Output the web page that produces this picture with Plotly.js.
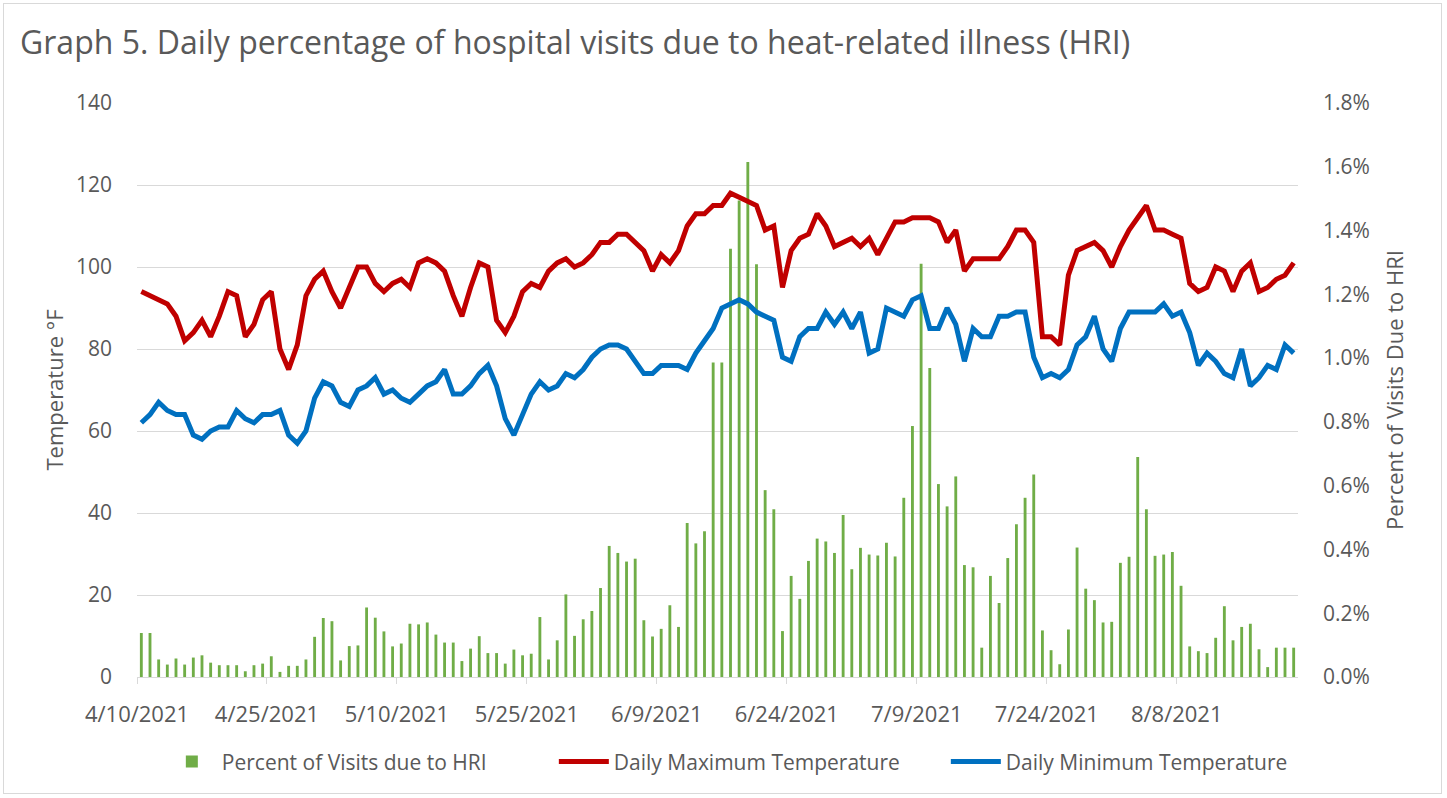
<!DOCTYPE html>
<html><head><meta charset="utf-8">
<script src="https://cdn.plot.ly/plotly-3.0.1.min.js"></script>
<style>
html,body{margin:0;padding:0;background:#fff}
#wrap{position:relative;width:1447px;height:798px}
#frame{position:absolute;left:3px;top:3px;width:1439px;height:791px;border:1px solid #d9d9d9;pointer-events:none;box-sizing:border-box}
</style></head>
<body><div id="wrap"><div id="chart"></div><div id="frame"></div></div>
<script>
const START_DATE = '2021-04-10';
const END_DATE = '2021-08-22';
const maxTemp = [94,93,92,91,88,82,84,87,83,88,
94,93,83,86,92,94,80,75,81,93,
97,99,94,90,95,100,100,96,94,96,
97,95,101,102,101,99,93,88,95,101,
100,87,84,88,94,96,95,99,101,102,
100,101,103,106,106,108,108,106,104,99,
103,101,104,110,113,113,115,115,118,117,
116,115,109,110,95,104,107,108,113,110,
105,106,107,105,107,103,107,111,111,112,
112,112,111,106,109,99,102,102,102,102,
105,109,109,106,83,83,81,98,104,105,
106,104,100,105,109,112,115,109,109,108,
107,96,94,95,100,99,94,99,101,94,
95,97,98,101];
const minTemp = [62,64,67,65,64,64,59,58,60,61,
61,65,63,62,64,64,65,59,57,60,
68,72,71,67,66,70,71,73,69,70,
68,67,69,71,72,75,69,69,71,74,
76,71,63,59,64,69,72,70,71,74,
73,75,78,80,81,81,80,77,74,74,
76,76,76,75,79,82,85,90,91,92,
91,89,88,87,78,77,83,85,85,89,
86,89,85,89,79,80,90,89,88,92,
93,85,85,90,86,77,85,83,83,88,
88,89,89,78,73,74,73,75,81,83,
88,80,77,85,89,89,89,89,91,88,
89,84,76,79,77,74,73,80,71,73,
76,75,81,79];
const hriPct = [0.138,0.138,0.055,0.039,0.058,0.039,0.061,0.068,0.045,0.037,
0.037,0.037,0.018,0.037,0.042,0.065,0.016,0.035,0.035,0.055,
0.126,0.185,0.175,0.052,0.097,0.099,0.218,0.186,0.143,0.096,
0.105,0.167,0.165,0.171,0.133,0.108,0.108,0.050,0.089,0.128,
0.075,0.075,0.042,0.086,0.068,0.073,0.188,0.055,0.115,0.259,
0.129,0.181,0.207,0.279,0.411,0.389,0.362,0.371,0.178,0.127,
0.151,0.225,0.157,0.483,0.419,0.457,0.986,0.986,1.343,1.494,
1.615,1.294,0.586,0.526,0.144,0.317,0.245,0.364,0.434,0.425,
0.389,0.508,0.338,0.405,0.384,0.381,0.421,0.378,0.562,0.787,
1.296,0.969,0.605,0.535,0.629,0.351,0.344,0.092,0.317,0.232,
0.373,0.479,0.562,0.635,0.146,0.084,0.040,0.149,0.406,0.277,
0.241,0.171,0.173,0.358,0.377,0.690,0.526,0.380,0.384,0.392,
0.286,0.096,0.081,0.075,0.123,0.222,0.115,0.157,0.167,0.087,
0.031,0.092,0.092,0.092];
const tickDates = ['2021-04-10','2021-04-25','2021-05-10','2021-05-25','2021-06-09','2021-06-24','2021-07-09','2021-07-24','2021-08-08'];
const tickLabels = ['4/10/2021','4/25/2021','5/10/2021','5/25/2021','6/9/2021','6/24/2021','7/9/2021','7/24/2021','8/8/2021'];

// one date per day, placed at mid-day so each mark sits in the middle of its day slot
function pad(n){return (n<10?'0':'')+n;}
const start = new Date(START_DATE + 'T00:00:00Z');
const dates = maxTemp.map((_, i) => {
  const d = new Date(start.getTime() + i * 86400000);
  return d.getUTCFullYear() + '-' + pad(d.getUTCMonth()+1) + '-' + pad(d.getUTCDate()) + ' 12:00';
});

const GREY = '#595959';
const GRID = '#d9d9d9';
const FONT = 'Open Sans, Noto Sans, sans-serif';

// bars on the base (right-hand, percent) axis; temperature lines on the overlaid
// left-hand axis so that they are drawn above the bars, as in the reference
const data = [
  {type:'bar', name:'Percent of Visits due to HRI', x:dates, y:hriPct, yaxis:'y',
   marker:{color:'#70AD47', line:{width:0}}, width:0.33*86400000},
  {type:'scatter', mode:'lines', name:'Daily Maximum Temperature', x:dates, y:maxTemp, yaxis:'y2',
   line:{color:'#C00000', width:5}},
  {type:'scatter', mode:'lines', name:'Daily Minimum Temperature', x:dates, y:minTemp, yaxis:'y2',
   line:{color:'#0070C0', width:5}}
];

const layout = {
  width:1447, height:798,
  margin:{l:137, r:149, t:103, b:121},
  paper_bgcolor:'#fff', plot_bgcolor:'rgba(0,0,0,0)',
  font:{family:FONT, color:GREY, size:21},
  title:{text:'Graph 5. Daily percentage of hospital visits due to heat-related illness (HRI)',
    x:20/1447, xref:'container', xanchor:'left', y:1-43/798, yref:'container', yanchor:'middle',
    font:{family:FONT, size:32, color:GREY}},
  showlegend:true,
  xaxis:{type:'date', range:[START_DATE, END_DATE], tickmode:'array', tickvals:tickDates, ticktext:tickLabels,
    ticks:'outside', ticklen:6, tickcolor:GRID, tickwidth:1, showgrid:false, zeroline:false,
    showline:true, linecolor:GRID, linewidth:1, ticklabelstandoff:12, tickfont:{size:22, color:GREY}},
  yaxis:{side:'right', range:[0,1.8], tick0:0, dtick:0.2, tickformat:'.1f', ticksuffix:'%',
    showgrid:false, zeroline:false, showline:false, ticks:'', ticklabelstandoff:24, tickfont:{size:21, color:GREY},
    title:{text:'Percent of Visits Due to HRI', font:{size:22, color:GREY}, standoff:18}},
  yaxis2:{overlaying:'y', side:'left', range:[0,140], tick0:0, dtick:20, showgrid:true, gridcolor:GRID, gridwidth:1,
    zeroline:false, showline:false, ticks:'', ticklabelstandoff:24, tickfont:{size:21, color:GREY},
    title:{text:'Temperature °F', font:{size:22, color:GREY}, standoff:6}},
  legend:{orientation:'h', x:-0.001, xanchor:'left', y:-0.148, yanchor:'middle',
    font:{size:21, color:GREY}, traceorder:'normal', itemwidth:50, indentation:26,
    entrywidth:301, entrywidthmode:'pixels', bgcolor:'rgba(0,0,0,0)'}
};

Plotly.newPlot('chart', data, layout, {displayModeBar:false, staticPlot:true});
</script>
</body></html>
